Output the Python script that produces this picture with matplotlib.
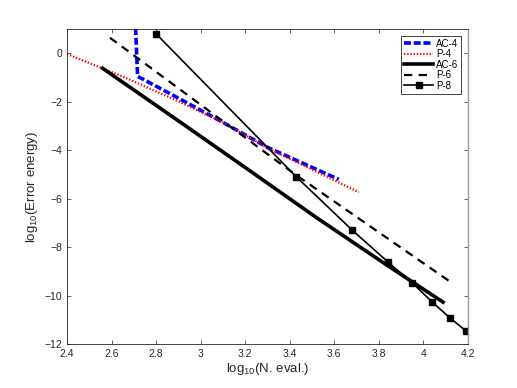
import numpy as np
import matplotlib
matplotlib.use("Agg")
import matplotlib.pyplot as plt

plt.rcParams['font.family'] = ['Liberation Sans', 'DejaVu Sans']
plt.rcParams['mathtext.default'] = 'regular'
plt.rcParams['lines.scale_dashes'] = False

# data (log10 N. eval., log10 error energy)
ac4_x = [2.701, 2.708, 2.717, 2.9, 3.1, 3.3, 3.62]
ac4_y = [2.5, 1.0, -0.95, -1.85, -2.85, -3.88, -5.2]

p4_x = [2.4, 2.64, 2.9, 3.1, 3.31, 3.71]
p4_y = [-0.03, -0.92, -1.98, -2.85, -3.95, -5.73]

ac6_x = [2.56, 2.907, 3.2, 3.522, 3.84, 4.088]
ac6_y = [-0.62, -2.83, -4.71, -6.79, -8.76, -10.26]

p6_x = [2.593, 3.414, 4.128]
p6_y = [0.64, -4.93, -9.47]

p8_x = [2.80, 3.43, 3.68, 3.84, 3.95, 4.04, 4.12, 4.19, 4.25]
p8_y = [0.80, -5.10, -7.29, -8.60, -9.47, -10.26, -10.92, -11.44, -11.9]

xticks = [2.4, 2.6, 2.8, 3, 3.2, 3.4, 3.6, 3.8, 4, 4.2]
xticklabels = ['2.4', '2.6', '2.8', '3', '3.2', '3.4', '3.6', '3.8', '4', '4.2']
yticks = [-12, -10, -8, -6, -4, -2, 0]

fig = plt.figure(figsize=(5.17, 3.88), dpi=100)
ax = fig.add_axes([0.1296, 0.1126, 0.7756, 0.8126])

ax.plot(ac4_x, ac4_y, color='blue', lw=2.6, linestyle=(0, (5, 2)), label='AC-4')
ax.plot(p4_x, p4_y, color='red', lw=1.6, linestyle=(0, (1, 1.3)), label='P-4')
ax.plot(ac6_x, ac6_y, color='black', lw=2.6, label='AC-6')
ax.plot(p6_x, p6_y, color='black', lw=1.6, linestyle=(0, (6, 4.5)), label='P-6')
ax.plot(p8_x, p8_y, color='black', lw=1.2, marker='s', markersize=4, label='P-8')

ax.set_xlim(2.4, 4.2)
ax.set_ylim(-12, 1.0)
ax.set_xticks(xticks)
ax.set_xticklabels(xticklabels)
ax.set_yticks(yticks)
ax.tick_params(direction='in', top=True, right=True, labelsize=7.5,
               colors='#262626', length=3, width=0.5)
for s in ax.spines.values():
    s.set_color('#262626')
    s.set_linewidth(0.6)
ax.spines['right'].set_color('#999999')
ax.spines['right'].set_linewidth(1.0)

ax.set_xlabel('log$_{10}$(N. eval.)', fontsize=9.5, color='#262626', labelpad=1)
ax.set_ylabel('log$_{10}$(Error energy)', fontsize=9.5, color='#262626', labelpad=3)

leg = ax.legend(loc='upper right', fontsize=7, handlelength=3.0, labelspacing=0.05,
                borderaxespad=0.7, fancybox=False, framealpha=1, borderpad=0.3,
                handletextpad=0.3)
leg.get_frame().set_edgecolor('#262626')
leg.get_frame().set_linewidth(0.6)

fig.savefig('out.png', dpi=100)
